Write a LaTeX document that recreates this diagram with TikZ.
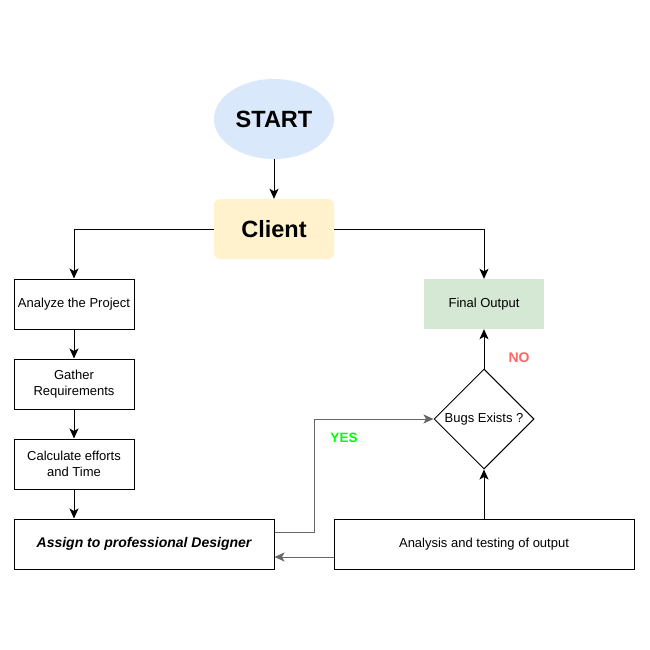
\documentclass[tikz,border=0pt]{standalone}
\usepackage{fontspec}
\setmainfont{Liberation Sans}
\usetikzlibrary{shapes.geometric,arrows.meta}

\definecolor{startblue}{RGB}{218,232,252}
\definecolor{clientyellow}{RGB}{255,242,204}
\definecolor{outgreen}{RGB}{213,232,212}
\definecolor{nored}{RGB}{255,102,102}
\definecolor{yesgreen}{RGB}{0,255,0}
\definecolor{linegray}{RGB}{102,102,102}

\begin{document}
\begin{tikzpicture}[x=1pt,y=-1pt,
  box/.style={draw,line width=1pt,minimum width=120pt,minimum height=50pt,align=center,
    font=\fontsize{13}{16}\selectfont},
  arr/.style={line width=1pt,-{Stealth[length=10pt,width=9pt,inset=2.5pt]}}]
\useasboundingbox (0,0) rectangle (650,650);

% Start and client
\node[ellipse,fill=startblue,minimum width=120pt,minimum height=80pt,
  font=\fontsize{23.5}{28}\selectfont\bfseries] (start) at (274,119) {START};
\node[rounded corners=6pt,fill=clientyellow,minimum width=120pt,minimum height=60pt,
  font=\fontsize{23.5}{28}\selectfont\bfseries] (client) at (274,229) {Client};

% Left column
\node[box] (analyze) at (74,304) {Analyze the Project};
\node[box] (gather) at (74,384) {Gather\\Requirements};
\node[box] (calc) at (74,464) {Calculate efforts\\and Time};
\node[box,minimum width=260pt,font=\fontsize{14}{17}\selectfont\bfseries\itshape]
  (assign) at (144,544) {Assign to professional Designer};

% Right column
\node[box,minimum width=300pt] (testing) at (484,544) {Analysis and testing of output};
\node[diamond,draw,line width=1pt,inner sep=0pt,minimum width=100pt,minimum height=100pt,
  font=\fontsize{13}{16}\selectfont] (bugs) at (484,419) {Bugs Exists ?};
\node[fill=outgreen,minimum width=120pt,minimum height=50pt,
  font=\fontsize{13}{16}\selectfont] (final) at (484,304) {Final Output};

% Labels
\node[text=nored,font=\fontsize{14}{17}\selectfont\bfseries] (no) at (519,358) {NO};
\node[text=yesgreen,font=\fontsize{13.5}{16}\selectfont\bfseries] (yes) at (344,438) {YES};

% Connectors
\draw[arr] (start) -- (client);
\draw[arr] (client.west) -| (analyze.north);
\draw[arr] (client.east) -| (final.north);
\draw[arr] (analyze) -- (gather);
\draw[arr] (gather) -- (calc);
\draw[arr] (calc) -- (calc |- assign.north);
\draw[arr,linegray] ([yshift=12pt]assign.east) -- ++(40,0) |- (bugs.west);
\draw[arr,linegray] ([yshift=-13pt]testing.west) -- ([yshift=-13pt]assign.east);
\draw[arr] (testing.north) -- (bugs.south);
\draw[arr] (bugs.north) -- (final.south);
\end{tikzpicture}
\end{document}
